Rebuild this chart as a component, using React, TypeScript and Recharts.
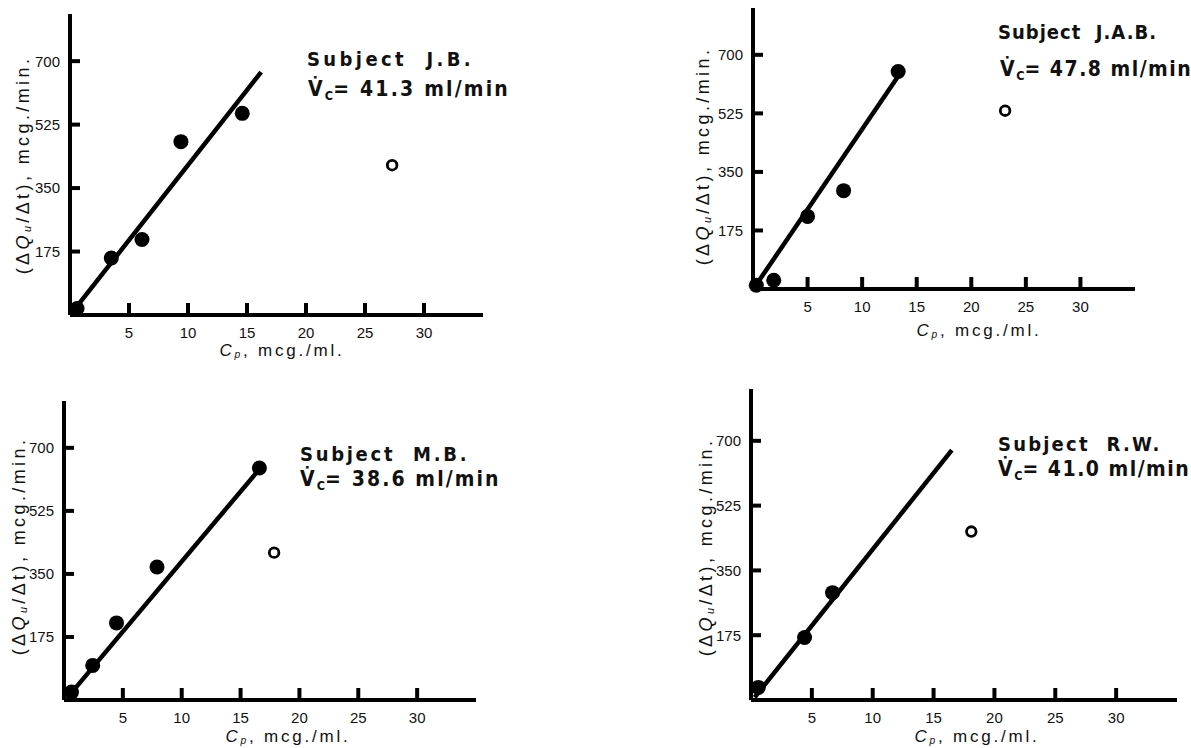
import React from 'react';
import { ScatterChart, Scatter, XAxis, YAxis, ReferenceLine } from 'recharts';

// ---- shared axis ticks ----
const xTicks = [5, 10, 15, 20, 25, 30];
const yTicks = [175, 350, 525, 700];

// ---- Subject J.B. ----
const jbFilled = [
  { x: 0.6, y: 18 },
  { x: 3.5, y: 157 },
  { x: 6.1, y: 208 },
  { x: 9.4, y: 478 },
  { x: 14.6, y: 556 },
];
const jbOpen = [{ x: 27.3, y: 413 }];
const jbFit = [{ x: 0.3, y: 12 }, { x: 16.2, y: 670 }];

// ---- Subject J.A.B. ----
const jabFilled = [
  { x: 0.3, y: 11 },
  { x: 1.9, y: 26 },
  { x: 5.0, y: 217 },
  { x: 8.3, y: 294 },
  { x: 13.3, y: 650 },
];
const jabOpen = [{ x: 23.1, y: 533 }];
const jabFit = [{ x: 0.2, y: 8 }, { x: 13.3, y: 636 }];

// ---- Subject M.B. ----
const mbFilled = [
  { x: 0.64, y: 22 },
  { x: 2.44, y: 96 },
  { x: 4.46, y: 214 },
  { x: 7.9, y: 369 },
  { x: 16.6, y: 644 },
];
const mbOpen = [{ x: 17.85, y: 409 }];
const mbFit = [{ x: 0.5, y: 15 }, { x: 16.6, y: 641 }];

// ---- Subject R.W. ----
const rwFilled = [
  { x: 0.6, y: 34 },
  { x: 4.4, y: 169 },
  { x: 6.7, y: 290 },
];
const rwOpen = [{ x: 18.1, y: 455 }];
const rwFit = [{ x: 0.3, y: 7 }, { x: 16.5, y: 675 }];

const subjects = ['J.B.', 'J.A.B.', 'M.B.', 'R.W.'];
const clearances = ['41.3', '47.8', '38.6', '41.0'];

const TICK_FONT = "'Liberation Sans Narrow', 'Liberation Sans', Arial, sans-serif";
const LABEL_FONT = "'Liberation Sans', Arial, sans-serif";
const TITLE_FONT = "'DejaVu Sans Condensed', 'DejaVu Sans', sans-serif";

const XTick = (props: any) => {
  const { x, y, payload } = props;
  return (
    <text x={x} y={y} dy="0.36em" textAnchor="middle" fontSize={15} fontFamily={TICK_FONT} fill="#111">
      {payload.value}
    </text>
  );
};

const YTick = (props: any) => {
  const { x, y, payload } = props;
  return (
    <text x={x} y={y} dy="0.36em" textAnchor="end" fontSize={15} fontFamily={TICK_FONT} fill="#111">
      {payload.value}
    </text>
  );
};

const FilledDot = (props: any) => <circle cx={props.cx} cy={props.cy} r={7.5} fill="#000" />;
const OpenDot = (props: any) => (
  <circle cx={props.cx} cy={props.cy} r={4.8} fill="#fff" stroke="#000" strokeWidth={2.8} />
);

type Box = { left: number; top: number; right: number; bottom: number; yMax: number };

function Panel({ box, filled, open, fit }: { box: Box; filled: any[]; open: any[]; fit: any[] }) {
  const YW = 60, MT = 10, MR = 10, XH = 50;
  const plotW = box.right - box.left;
  const plotH = box.bottom - box.top;
  const W = YW + plotW + MR;
  const H = MT + plotH + XH;
  const axisStyle = { stroke: '#000', strokeWidth: 4 };
  const tickStyle = { stroke: '#000', strokeWidth: 4 };
  return (
    <div style={{ position: 'absolute', left: box.left - YW, top: box.top - MT }}>
      <ScatterChart width={W} height={H} margin={{ top: MT, right: MR, bottom: 0, left: 0 }}>
        <XAxis
          type="number"
          dataKey="x"
          domain={[0, 35]}
          ticks={xTicks}
          interval={0}
          height={XH}
          tickSize={-12}
          tickMargin={30}
          tickLine={tickStyle}
          axisLine={axisStyle}
          tick={XTick}
        />
        <YAxis
          type="number"
          dataKey="y"
          domain={[0, box.yMax]}
          ticks={yTicks}
          interval={0}
          width={YW}
          tickSize={-10}
          tickMargin={20}
          tickLine={tickStyle}
          axisLine={axisStyle}
          tick={YTick}
        />
        <ReferenceLine
          segment={[fit[0], fit[1]]}
          stroke="#000"
          strokeWidth={4.5}
          ifOverflow="visible"
        />
        <Scatter data={filled} shape={FilledDot} isAnimationActive={false} />
        <Scatter data={open} shape={OpenDot} isAnimationActive={false} />
      </ScatterChart>
    </div>
  );
}

const subStyle: React.CSSProperties = { fontSize: '0.6em', verticalAlign: '-0.2em', lineHeight: 0 };

function YLabel({ cx, cy }: { cx: number; cy: number }) {
  return (
    <div
      style={{
        position: 'absolute',
        left: cx,
        top: cy,
        transform: 'translate(-50%, -50%) rotate(-90deg)',
        whiteSpace: 'nowrap',
        fontFamily: LABEL_FONT,
        fontSize: 18,
        letterSpacing: 3.4,
        color: '#111',
        lineHeight: 1,
      }}
    >
      (Δ<i>Q</i>
      <span style={subStyle}>
        <i>u</i>
      </span>
      /Δt), mcg./min.
    </div>
  );
}

function XLabel({ cx, cy }: { cx: number; cy: number }) {
  return (
    <div
      style={{
        position: 'absolute',
        left: cx,
        top: cy,
        transform: 'translate(-50%, -50%)',
        whiteSpace: 'nowrap',
        fontFamily: LABEL_FONT,
        fontSize: 17,
        letterSpacing: 2.8,
        color: '#111',
        lineHeight: 1,
      }}
    >
      <i>C</i>
      <span style={subStyle}>
        <i>p</i>
      </span>
      , mcg./ml.
    </div>
  );
}

function Title({
  x1, y1, x2, y2, subject, vc, ls1, ls2,
}: { x1: number; y1: number; x2: number; y2: number; subject: string; vc: string; ls1: number; ls2: number }) {
  const base: React.CSSProperties = {
    position: 'absolute',
    whiteSpace: 'pre',
    fontFamily: TITLE_FONT,
    fontWeight: 'bold',
    color: '#111',
    lineHeight: 1,
  };
  return (
    <>
      <div style={{ ...base, left: x1, top: y1 - 11, fontSize: 20, letterSpacing: ls1 }}>
        {'Subject  ' + subject}
      </div>
      <div style={{ ...base, left: x2, top: y2 - 11, fontSize: 21, letterSpacing: ls2 }}>
        {'V\u0307'}
        <span style={{ fontSize: '0.6em', letterSpacing: 0, verticalAlign: '-0.3em', lineHeight: 0 }}>C</span>
        {'= ' + vc + ' ml/min'}
      </div>
    </>
  );
}

const boxes: Box[] = [
  { left: 70, top: 14, right: 483, bottom: 315, yMax: 830 },
  { left: 753, top: 8, right: 1135, bottom: 289, yMax: 840 },
  { left: 64, top: 401, right: 476, bottom: 700, yMax: 830 },
  { left: 751, top: 389, right: 1177, bottom: 700, yMax: 840 },
];

export default function App() {
  return (
    <div style={{ position: 'absolute', left: 0, top: 0, width: 1191, height: 748, background: '#fff', overflow: 'hidden' }}>
      <Panel box={boxes[0]} filled={jbFilled} open={jbOpen} fit={jbFit} />
      <Panel box={boxes[1]} filled={jabFilled} open={jabOpen} fit={jabFit} />
      <Panel box={boxes[2]} filled={mbFilled} open={mbOpen} fit={mbFit} />
      <Panel box={boxes[3]} filled={rwFilled} open={rwOpen} fit={rwFit} />

      <YLabel cx={23} cy={165} />
      <YLabel cx={703} cy={156} />
      <YLabel cx={19} cy={546} />
      <YLabel cx={706} cy={547} />

      <XLabel cx={282} cy={350} />
      <XLabel cx={979} cy={330} />
      <XLabel cx={288} cy={736} />
      <XLabel cx={977} cy={736} />

      <Title x1={307} y1={60} x2={308} y2={90} subject={subjects[0]} vc={clearances[0]} ls1={3.4} ls2={2.2} />
      <Title x1={998} y1={33} x2={1000} y2={70} subject={subjects[1]} vc={clearances[1]} ls1={1.0} ls2={1.5} />
      <Title x1={300} y1={455} x2={300} y2={480} subject={subjects[2]} vc={clearances[2]} ls1={2.7} ls2={2.1} />
      <Title x1={998} y1={445} x2={998} y2={470} subject={subjects[3]} vc={clearances[3]} ls1={2.2} ls2={1.5} />
    </div>
  );
}
